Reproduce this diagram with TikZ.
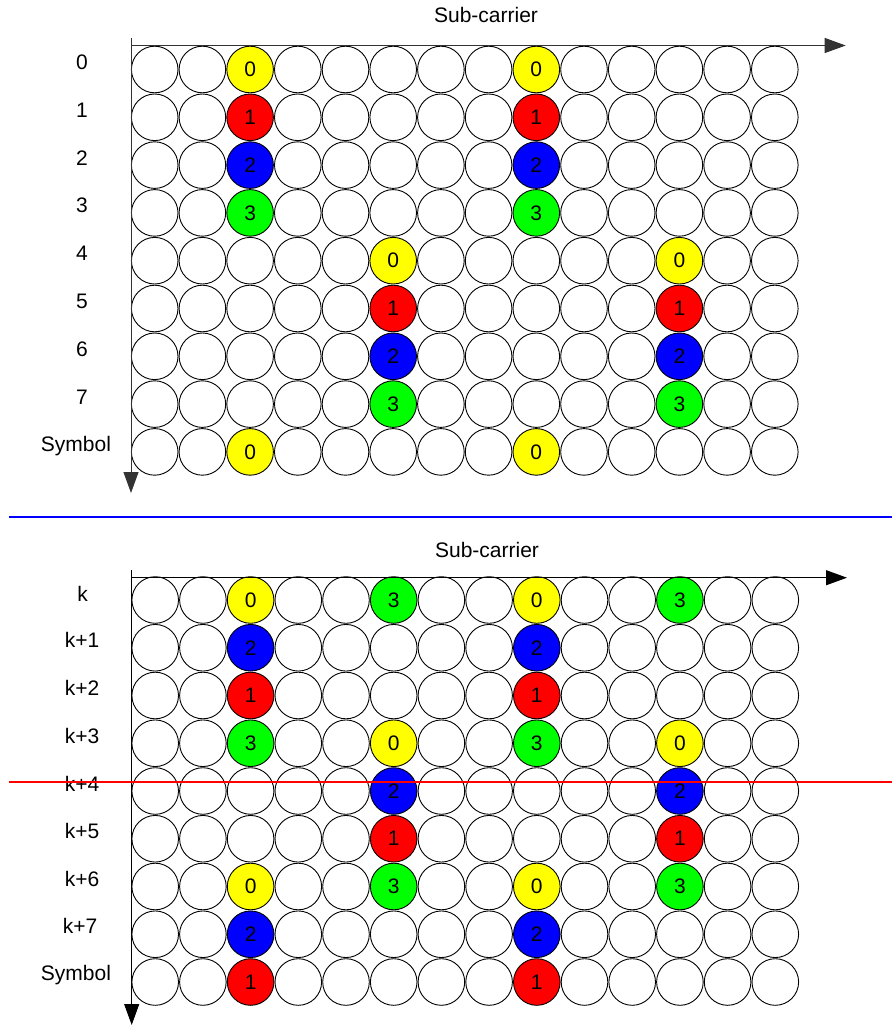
\documentclass[tikz,border=0pt]{standalone}
\usepackage{fontspec}
\setmainfont{Liberation Sans}
\usetikzlibrary{arrows.meta}
\definecolor{cyel}{RGB}{255,255,0}
\definecolor{cred}{RGB}{255,0,0}
\definecolor{cblue}{RGB}{0,0,255}
\definecolor{cgreen}{RGB}{0,255,0}
\newcommand\mysetcell[5]{%
  \expandafter\def\csname cellfill-#1-#2-#3\endcsname{#4}%
  \expandafter\def\csname celltxt-#1-#2-#3\endcsname{#5}}
% top panel
\mysetcell{t}{0}{2}{cyel}{0}\mysetcell{t}{1}{2}{cred}{1}\mysetcell{t}{2}{2}{cblue}{2}\mysetcell{t}{3}{2}{cgreen}{3}\mysetcell{t}{8}{2}{cyel}{0}
\mysetcell{t}{0}{8}{cyel}{0}\mysetcell{t}{1}{8}{cred}{1}\mysetcell{t}{2}{8}{cblue}{2}\mysetcell{t}{3}{8}{cgreen}{3}\mysetcell{t}{8}{8}{cyel}{0}
\mysetcell{t}{4}{5}{cyel}{0}\mysetcell{t}{5}{5}{cred}{1}\mysetcell{t}{6}{5}{cblue}{2}\mysetcell{t}{7}{5}{cgreen}{3}
\mysetcell{t}{4}{11}{cyel}{0}\mysetcell{t}{5}{11}{cred}{1}\mysetcell{t}{6}{11}{cblue}{2}\mysetcell{t}{7}{11}{cgreen}{3}
% bottom panel
\mysetcell{b}{0}{2}{cyel}{0}\mysetcell{b}{1}{2}{cblue}{2}\mysetcell{b}{2}{2}{cred}{1}\mysetcell{b}{3}{2}{cgreen}{3}\mysetcell{b}{6}{2}{cyel}{0}\mysetcell{b}{7}{2}{cblue}{2}\mysetcell{b}{8}{2}{cred}{1}
\mysetcell{b}{0}{8}{cyel}{0}\mysetcell{b}{1}{8}{cblue}{2}\mysetcell{b}{2}{8}{cred}{1}\mysetcell{b}{3}{8}{cgreen}{3}\mysetcell{b}{6}{8}{cyel}{0}\mysetcell{b}{7}{8}{cblue}{2}\mysetcell{b}{8}{8}{cred}{1}
\mysetcell{b}{0}{5}{cgreen}{3}\mysetcell{b}{3}{5}{cyel}{0}\mysetcell{b}{4}{5}{cblue}{2}\mysetcell{b}{5}{5}{cred}{1}\mysetcell{b}{6}{5}{cgreen}{3}
\mysetcell{b}{0}{11}{cgreen}{3}\mysetcell{b}{3}{11}{cyel}{0}\mysetcell{b}{4}{11}{cblue}{2}\mysetcell{b}{5}{11}{cred}{1}\mysetcell{b}{6}{11}{cgreen}{3}
\begin{document}
\begin{tikzpicture}[x=1pt,y=-1pt,
  cell/.style={circle, draw=black, line width=0.9pt, minimum size=46.6pt, inner sep=0pt,
    font=\fontsize{21}{25}\selectfont},
  lbl/.style={anchor=base, inner sep=0pt, font=\fontsize{21}{25}\selectfont},
  axis/.style={draw=black!80, line width=1pt, -{Triangle[length=21pt,width=15pt]}},
  sep/.style={line width=1.6pt}]
\useasboundingbox (0,0) rectangle (892,1025);
% ---------- top panel ----------
\foreach \r in {0,...,8}{\foreach \c in {0,...,13}{%
  \ifcsname cellfill-t-\r-\c\endcsname
    \edef\cfill{\csname cellfill-t-\r-\c\endcsname}\edef\ctxt{\csname celltxt-t-\r-\c\endcsname}%
  \else\def\cfill{white}\def\ctxt{}\fi
  \node[cell, fill=\cfill] (t-\r-\c) at ({154.7+47.7*\c},{69.5+47.8*\r}) {\ctxt};
}}
\foreach \t [count=\i from 0] in {0,1,2,3,4,5,6,7}{
  \node[lbl] (tl-\i) at (82,{69.5+47.8*\i}) {\t};}
\node[lbl] (tl-8) at (76,451) {Symbol};
\node[lbl] (tsub) at (486,23) {Sub-carrier};
\coordinate (tO) at (131,45.5);
\coordinate (tT) at (131,38);
\coordinate (tX) at (845.7,45.5);
\coordinate (tY) at (131,493);
\draw[axis] (tO) -- (tX);
\draw[axis] (tT) -- (tY);
% separator
\coordinate (s1) at (9,516.7);
\coordinate (s2) at (892,516.7);
\draw[sep, cblue] (s1) -- (s2);
% ---------- bottom panel ----------
\foreach \r in {0,...,8}{\foreach \c in {0,...,13}{%
  \ifcsname cellfill-b-\r-\c\endcsname
    \edef\cfill{\csname cellfill-b-\r-\c\endcsname}\edef\ctxt{\csname celltxt-b-\r-\c\endcsname}%
  \else\def\cfill{white}\def\ctxt{}\fi
  \node[cell, fill=\cfill] (b-\r-\c) at ({155.2+47.7*\c},{600+47.75*\r}) {\ctxt};
}}
\node[lbl] (bl-0) at (82.5,601) {k};
\foreach \i in {1,...,6}{
  \node[lbl] (bl-\i) at (82,{600+47.75*\i}) {k+\i};}
\node[lbl] (bl-7) at (80,933) {k+7};
\node[lbl] (bl-8) at (76,980) {Symbol};
\node[lbl] (bsub) at (487,557) {Sub-carrier};
\coordinate (bO) at (131.7,577.7);
\coordinate (bT) at (131.7,570);
\coordinate (bX) at (847,577.7);
\coordinate (bY) at (131.7,1025);
\draw[axis, draw=black] (bO) -- (bX);
\draw[axis, draw=black] (bT) -- (bY);
\coordinate (r1) at (9,782);
\coordinate (r2) at (892,782);
\draw[sep, cred] (r1) -- (r2);
\end{tikzpicture}
\end{document}
